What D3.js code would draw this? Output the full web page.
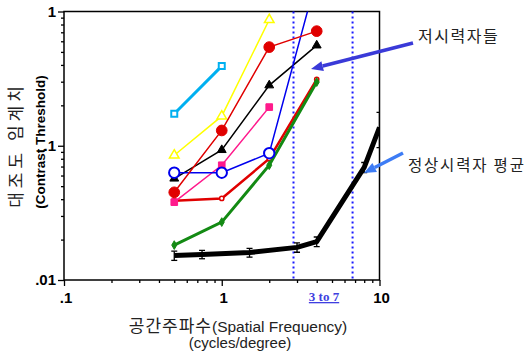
<!DOCTYPE html>
<html><head><meta charset="utf-8">
<script src="https://cdn.jsdelivr.net/npm/d3@7"></script>
<style>body{margin:0;background:#fff}svg{display:block}</style>
</head><body>
<svg id="c" width="526" height="354"></svg>
<script>
// ---- data ----
const xTicks = [0.1, 1, 10];
const xTickLabels = [".1", "1", "10"];
const yTicks = [0.01, 0.1, 1];
const yTickLabels = [".01", ".1", "1"];

const normFreq = [0.5, 0.75, 1.5, 3, 4, 8, 10];
const normVals = [0.0152, 0.0155, 0.016, 0.0175, 0.0193, 0.069, 0.137];
const normErr  = [0.0012, 0.0011, 0.0012, 0.0014, 0.0016, 0.006, 0.04];

const lowFreq = [0.5, 1, 2, 4];
const cyanVals   = [0.173, 0.392];
const yellowVals = [0.085, 0.166, 0.868];
const redVals    = [0.045, 0.130, 0.543, 0.714];
const blackVals  = [0.057, 0.093, 0.282, 0.559];
const pinkVals   = [0.038, 0.0716, 0.194];
const blueVals   = [0.063, 0.063, 0.088, 1.8];
const red2Vals   = [0.039, 0.0405, 0.08, 0.312];
const greenVals  = [0.0182, 0.027, 0.0716, 0.298];

const refLines = [2.85, 6.75];

// ---- layout ----
const svg = d3.select("#c");
const L = 64, R = 379.5, T = 11.5, B = 280;
const x = d3.scaleLog().domain([0.1, 10]).range([L, R]);
const y = d3.scaleLog().domain([0.01, 1]).range([B, T]);

svg.append("defs").append("clipPath").attr("id", "clip")
  .append("rect").attr("x", L).attr("y", T).attr("width", R - L).attr("height", B - T);

// frame
svg.append("rect").attr("x", L).attr("y", T).attr("width", R - L).attr("height", B - T)
  .attr("fill", "none").attr("stroke", "#000").attr("stroke-width", 1.5);

// axes
const minorX = [];
for (let d = 0.1; d < 10; d *= 10) for (let k = 2; k <= 9; k++) minorX.push(d * k);
const minorY = [];
for (let d = 0.01; d < 1; d *= 10) for (let k = 2; k <= 9; k++) minorY.push(d * k);

const xAx = svg.append("g").attr("transform", `translate(0,${B})`);
xAx.call(d3.axisBottom(x).tickValues(minorX).tickSize(3).tickFormat(""));
xAx.call(g => g.append("g").call(d3.axisBottom(x).tickValues(xTicks).tickSize(6).tickFormat("")));
xAx.selectAll(".domain").remove();
xAx.selectAll("line").attr("stroke", "#000").attr("stroke-width", 1.3);

const yAx = svg.append("g").attr("transform", `translate(${L},0)`);
yAx.call(d3.axisLeft(y).tickValues(minorY).tickSize(3).tickFormat(""));
yAx.call(g => g.append("g").call(d3.axisLeft(y).tickValues(yTicks).tickSize(6).tickFormat("")));
yAx.selectAll(".domain").remove();
yAx.selectAll("line").attr("stroke", "#000").attr("stroke-width", 1.3);

// tick labels
svg.selectAll(".xl").data(xTicks).enter().append("text")
  .attr("x", d => x(d) + 2).attr("y", 303).attr("text-anchor", "middle")
  .attr("font-family", "Liberation Sans, Arial, sans-serif").attr("font-weight", "bold")
  .attr("font-size", 15).text((d, i) => xTickLabels[i]);
svg.selectAll(".yl").data(yTicks).enter().append("text")
  .attr("x", 56).attr("y", d => y(d) + 5).attr("text-anchor", "end")
  .attr("font-family", "Liberation Sans, Arial, sans-serif").attr("font-weight", "bold")
  .attr("font-size", 15).text((d, i) => yTickLabels[i]);

// reference dotted lines
svg.selectAll(".ref").data(refLines).enter().append("line")
  .attr("x1", d => x(d)).attr("x2", d => x(d)).attr("y1", T).attr("y2", B)
  .attr("stroke", "#1a1aff").attr("stroke-width", 2).attr("stroke-dasharray", "2,3");
svg.append("text").attr("x", (x(refLines[0]) + x(refLines[1])) / 2 + 1).attr("y", 301)
  .attr("text-anchor", "middle").attr("font-family", "Liberation Serif, serif")
  .attr("font-weight", "bold").attr("font-size", 13).attr("fill", "#3f3fe0")
  .attr("text-decoration", "underline").text("3 to 7");

const plot = svg.append("g").attr("clip-path", "url(#clip)");
const line = d3.line().x(d => x(d[0])).y(d => y(d[1]));
const pts = vals => vals.map((v, i) => [lowFreq[i], v]);

function series(vals, color, width, marker) {
  const p = pts(vals);
  plot.append("path").attr("d", line(p)).attr("fill", "none")
    .attr("stroke", color).attr("stroke-width", width);
  const g = plot.append("g");
  p.forEach(d => marker(g, x(d[0]), y(d[1])));
}
const sym = (type, size, fill, stroke, sw) => (g, cx, cy) =>
  g.append("path").attr("d", d3.symbol().type(type).size(size)())
    .attr("transform", `translate(${cx},${cy})`)
    .attr("fill", fill).attr("stroke", stroke).attr("stroke-width", sw || 1.5);

series(cyanVals, "#00b0f0", 3, sym(d3.symbolSquare, 36, "#fff", "#00b0f0", 2));
series(yellowVals, "#ffff00", 1.5, sym(d3.symbolTriangle, 40, "#fff", "#ffff00", 1.5));
series(red2Vals, "#e00000", 2.5, sym(d3.symbolCircle, 14, "#fff", "#e00000", 1.5));
series(greenVals, "#138a13", 3, sym(d3.symbolDiamond, 22, "#138a13", "#138a13", 1));
series(pinkVals, "#ff1a8c", 1.5, sym(d3.symbolSquare, 44, "#ff1a8c", "#ff1a8c", 1));
series(blackVals, "#000", 1.5, sym(d3.symbolTriangle, 34, "#000", "#000", 1));
series(blueVals, "#0000ee", 1.5, sym(d3.symbolCircle, 85, "#fff", "#0000ee", 2));
series(redVals, "#e00000", 1.5, sym(d3.symbolCircle, 90, "#e00000", "#e00000", 1));

// normal mean
const np = normFreq.map((f, i) => [f, normVals[i]]);
plot.append("path").attr("d", line(np)).attr("fill", "none")
  .attr("stroke", "#000").attr("stroke-width", 5).attr("stroke-linejoin", "round");
const eb = plot.append("g").attr("stroke", "#000").attr("stroke-width", 1.3);
np.forEach((d, i) => {
  const cx = x(d[0]), y1 = y(d[1] + normErr[i]), y2 = y(d[1] - normErr[i]);
  eb.append("line").attr("x1", cx).attr("x2", cx).attr("y1", y1).attr("y2", y2);
  eb.append("line").attr("x1", cx - 3).attr("x2", cx + 3).attr("y1", y1).attr("y2", y1);
  eb.append("line").attr("x1", cx - 3).attr("x2", cx + 3).attr("y1", y2).attr("y2", y2);
});

// axis titles
const kr = "'Noto Sans CJK KR', 'Noto Sans', sans-serif";
svg.append("text").attr("transform", "translate(22,145) rotate(-90)").attr("text-anchor", "middle")
  .attr("font-family", kr).attr("font-size", 17).attr("letter-spacing", 4).attr("fill", "#222")
  .text("대조도 임계치");
svg.append("text").attr("transform", "translate(45,142) rotate(-90)").attr("text-anchor", "middle")
  .attr("font-family", "Liberation Sans, Arial, sans-serif").attr("font-weight", "bold")
  .attr("font-size", 13.5).text("(Contrast Threshold)");
const xt = svg.append("text").attr("x", 238).attr("y", 332).attr("text-anchor", "middle")
  .attr("fill", "#222");
xt.append("tspan").attr("font-family", kr).attr("font-size", 17).attr("letter-spacing", 1).text("공간주파수");
xt.append("tspan").attr("font-family", "Liberation Sans, Arial, sans-serif").attr("font-size", 15.5).text("(Spatial Frequency)");
svg.append("text").attr("x", 240).attr("y", 348).attr("text-anchor", "middle")
  .attr("font-family", "Liberation Sans, Arial, sans-serif").attr("font-size", 15)
  .attr("fill", "#222").text("(cycles/degree)");

// annotations
function arrow(x1, y1, x2, y2, color) {
  const a = Math.atan2(y2 - y1, x2 - x1), hl = 12, hw = 5;
  const bx = x2 - hl * Math.cos(a), by = y2 - hl * Math.sin(a);
  svg.append("line").attr("x1", x1).attr("y1", y1).attr("x2", bx).attr("y2", by)
    .attr("stroke", color).attr("stroke-width", 3.5);
  svg.append("path").attr("d",
    `M${x2},${y2}L${bx + hw * Math.sin(a)},${by - hw * Math.cos(a)}L${bx - hw * Math.sin(a)},${by + hw * Math.cos(a)}Z`)
    .attr("fill", color);
}
arrow(413, 43, 311, 69, "#3a3ad8");
arrow(403, 153, 364, 173, "#3d7cf5");
svg.append("text").attr("x", 418).attr("y", 42).attr("font-family", kr).attr("font-size", 16)
  .attr("letter-spacing", 1.5).attr("fill", "#222").text("저시력자들");
svg.append("text").attr("x", 408).attr("y", 171).attr("font-family", kr).attr("font-size", 15.5)
  .attr("letter-spacing", 1.8).attr("fill", "#222").text("정상시력자 평균");
</script>
</body></html>
